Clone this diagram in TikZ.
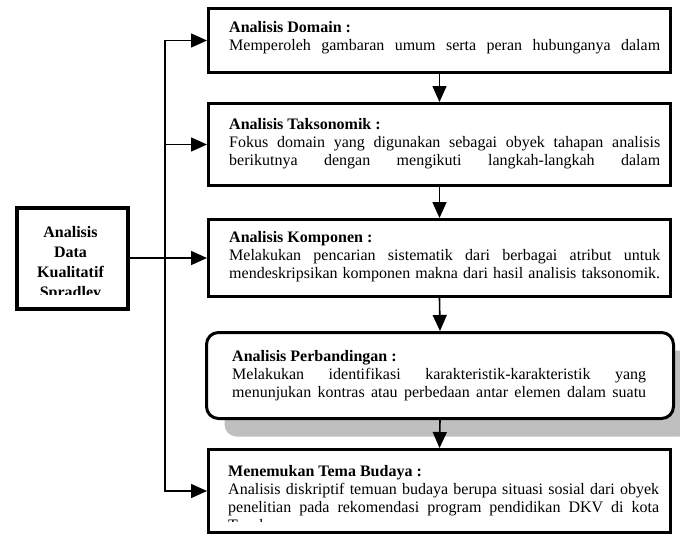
\documentclass[tikz,border=0pt]{standalone}
\usepackage{fontspec}
\setmainfont{Liberation Serif}
\usetikzlibrary{arrows.meta,shadows}
\hyphenpenalty=10000
\exhyphenpenalty=10000
\tolerance=9999
\hbadness=10000

\tikzset{
  stagebox/.style={draw, line width=3pt, fill=white, anchor=north west, inner sep=0pt},
  desc/.style={anchor=north west, inner sep=0pt, text width=#1, align=justify,
    font=\fontsize{16}{18}\selectfont, execute at begin node={\parfillskip=0pt\relax}},
  conn/.style={line width=1.6pt},
  arr/.style={-{Triangle[length=16pt,width=14pt]}}
}

\begin{document}
\begin{tikzpicture}[x=1pt, y=-1pt]
    \useasboundingbox (0,0) rectangle (680,533);

    % boxes
    \node[stagebox, line width=3.5pt, minimum width=111, minimum height=101] (kiri) at (15,206) {};
    \node[stagebox, minimum width=462, minimum height=64] (domain) at (207,7) {};
    \node[stagebox, minimum width=462, minimum height=82] (takso) at (207,102) {};
    \node[stagebox, minimum width=462, minimum height=77] (kompo) at (207,218) {};
    \node[stagebox, minimum width=467, minimum height=86, rounded corners=12pt,
          drop shadow={shadow xshift=18pt, shadow yshift=-18pt, fill=black!25, opacity=1}]
          (banding) at (205,331) {};
    \node[stagebox, minimum width=462, minimum height=83] (tema) at (207,448) {};

    % texts
    \begin{scope}
        \clip (15,206) rectangle (126,294);
        \node[anchor=north, inner sep=0pt, align=center,
              font=\fontsize{16}{20}\selectfont\bfseries] (kiritxt) at (70.5,226)
              {Analisis\\Data\\Kualitatif\\Spradley};
    \end{scope}

    \node[desc=431] (domaintxt) at (229,21)
        {\textbf{Analisis Domain :}\\
         Memperoleh gambaran umum serta peran hubunganya dalam};
    \node[desc=431] (taksotxt) at (229,118)
        {\textbf{Analisis Taksonomik :}\\
         Fokus domain yang digunakan sebagai obyek tahapan analisis\linebreak
         berikutnya dengan mengikuti langkah-langkah dalam};
    \node[desc=431] (kompotxt) at (229,231)
        {\textbf{Analisis Komponen :}\\
         Melakukan pencarian sistematik dari berbagai atribut untuk\linebreak
         mendeskripsikan komponen makna dari hasil analisis taksonomik.};
    \node[desc=414] (bandingtxt) at (232,350)
        {\textbf{Analisis Perbandingan :}\\
         Melakukan identifikasi karakteristik-karakteristik yang\linebreak
         menunjukan kontras atau perbedaan antar elemen dalam suatu};
    \begin{scope}
        \clip (207,448) rectangle (669,521);
        \node[desc=431] (tematxt) at (228,465)
            {\textbf{Menemukan Tema Budaya :}\\
             Analisis diskriptif temuan budaya berupa situasi sosial dari obyek\linebreak
             penelitian pada rekomendasi program pendidikan DKV di kota\linebreak
             Tegal.};
    \end{scope}

    % connectors
    \coordinate (trunk) at (165,256.5);
    \draw[conn] (kiri.east) -- (kiri.east -| trunk);
    \draw[conn, line cap=rect] (trunk |- domain.west) -- (trunk |- tema.west);

    \foreach \b in {domain,takso,kompo,tema}{
        \draw[conn, arr] (trunk |- \b.west) -- (\b.west);
    }

    \foreach \a/\b in {domain/takso, takso/kompo, kompo/banding, banding/tema}{
        \draw[conn, arr] (\a.south) -- (\b.north);
    }
\end{tikzpicture}
\end{document}
